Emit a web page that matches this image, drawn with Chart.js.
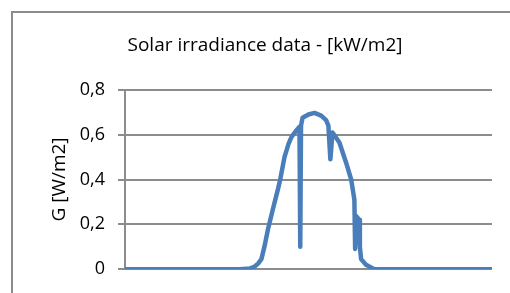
<!DOCTYPE html>
<html>
<head>
<meta charset="utf-8">
<script src="https://cdn.jsdelivr.net/npm/chart.js@4"></script>
<style>
	body { margin: 0; background: #fff; overflow: hidden; }
	#frame { position: absolute; left: 11px; top: 11px; width: 560px; height: 340px; border: 2px solid #8c8c8c; box-sizing: border-box; }
	#wrap { position: absolute; left: 0; top: 0; width: 510px; height: 293px; }
</style>
</head>
<body>
<div id="frame"></div>
<div id="wrap"><canvas id="myChart" width="510" height="293"></canvas></div>
<script>
// hour of day
let hours = [0, 7.5, 8.15, 8.48, 8.7, 8.92, 9.13, 9.35, 9.67, 10.0, 10.15, 10.43, 10.7, 10.89, 11.22, 11.41, 11.46, 11.51, 11.61, 12.0, 12.39, 12.83, 13.15, 13.3, 13.43, 13.57, 14.02, 14.46, 14.79, 15.0, 15.05, 15.11, 15.33, 15.36, 15.44, 15.76, 16.3, 24]
// irradiance G
let irradiance = [0, 0, 0.003, 0.012, 0.025, 0.045, 0.104, 0.178, 0.267, 0.356, 0.4, 0.5, 0.56, 0.59, 0.62, 0.635, 0.1, 0.64, 0.675, 0.69, 0.697, 0.685, 0.665, 0.64, 0.49, 0.61, 0.565, 0.475, 0.4, 0.31, 0.09, 0.237, 0.22, 0.1, 0.045, 0.02, 0, 0]
let yTicks = [0, 0.2, 0.4, 0.6, 0.8]

let points = hours.map((h, i) => ({ x: h, y: irradiance[i] }))

Chart.defaults.font.family = '"Open Sans", sans-serif'
Chart.defaults.color = '#000'
Chart.defaults.animation = false

var ctx = document.getElementById('myChart').getContext('2d')
var myChart = new Chart(ctx, {
	type: 'line',
	data: {
		datasets: [
			{
				data: points,
				borderColor: '#4a7ebb',
				borderWidth: 4.5,
				pointRadius: 0,
				tension: 0,
				borderCapStyle: 'round',
				borderJoinStyle: 'round',
			},
		],
	},
	options: {
		responsive: false,
		layout: { padding: { left: 38, right: 18, top: 0, bottom: 20 } },
		plugins: {
			legend: { display: false },
			tooltip: { enabled: false },
			title: {
				display: true,
				text: 'Solar irradiance data - [kW/m2]',
				font: { size: 19, weight: 'normal' },
				padding: { top: 34, bottom: 33 },
			},
		},
		scales: {
			x: {
				type: 'linear',
				min: 0,
				max: 24,
				display: false,
			},
			y: {
				min: 0,
				max: 0.8,
				afterBuildTicks: (scale) => {
					scale.ticks = yTicks.map((v) => ({ value: v }))
				},
				afterFit: (scale) => {
					scale.width = 87
				},
				ticks: {
					font: { size: 18 },
					padding: 13,
					callback: (v) => String(v).replace('.', ','),
				},
				grid: { color: '#8c8c8c', lineWidth: 2, tickLength: 7 },
				border: { color: '#8c8c8c', width: 2 },
				title: {
					display: true,
					text: 'G [W/m2]',
					font: { size: 19 },
					padding: { top: 10, bottom: 0 },
				},
			},
		},
	},
})
</script>
</body>
</html>
